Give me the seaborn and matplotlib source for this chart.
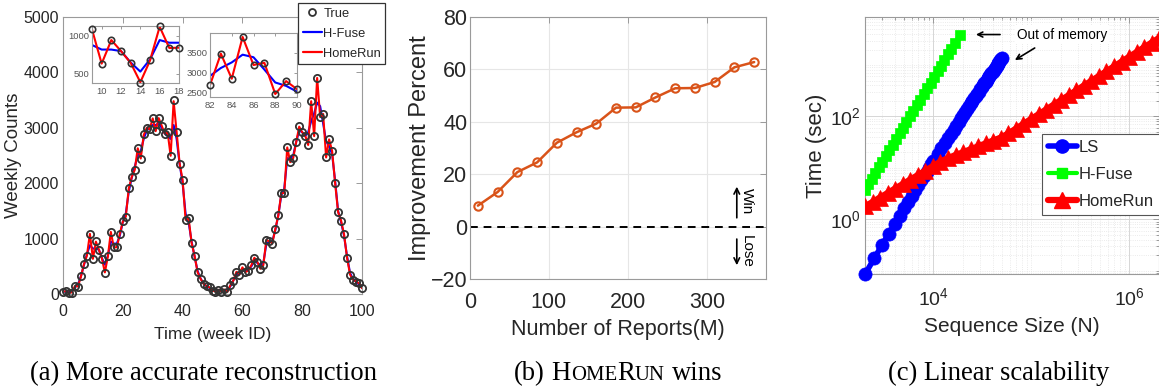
import numpy as np
import pandas as pd
import matplotlib
matplotlib.use("Agg")
import matplotlib.pyplot as plt
import seaborn as sns
from matplotlib.lines import Line2D
from matplotlib.ticker import LogLocator, NullFormatter, FixedLocator, LogFormatterMathtext

# ---------------- data ----------------
weeks = list(range(101))
true_counts = [40, 50, 15, 25, 150, 130, 320, 540, 690, 1090,
               630, 950, 800, 640, 385, 680, 1125, 840, 840, 1090,
               1310, 1390, 1910, 2120, 2235, 2640, 2435, 2880, 3000, 2970,
               3180, 2935, 3180, 3040, 2890, 2920, 2485, 3495, 2920, 2350,
               2065, 1335, 1375, 920, 690, 390, 270, 180, 145, 120,
               60, 40, 75, 40, 85, 35, 160, 240, 405, 345,
               485, 390, 420, 520, 650, 580, 450, 520, 980, 950,
               910, 1175, 1420, 1820, 1820, 2655, 2375, 2450, 2750, 3025,
               2920, 2860, 2690, 3480, 2850, 3905, 3195, 3250, 2465, 2790,
               2585, 2000, 1480, 1325, 1075, 650, 345, 255, 225, 200,
               100]
hfuse_counts = [40, 45, 40, 60, 120, 170, 320, 520, 720, 880,
                820, 820, 800, 650, 530, 690, 945, 910, 910, 1050,
                1300, 1450, 1850, 2100, 2300, 2500, 2580, 2800, 2950, 3000,
                3050, 3050, 3080, 3000, 2900, 2850, 2800, 3050, 2800, 2350,
                2000, 1450, 1300, 950, 680, 420, 280, 190, 140, 110,
                80, 60, 60, 60, 60, 70, 140, 250, 350, 380,
                420, 430, 440, 500, 600, 560, 520, 560, 900, 950,
                950, 1150, 1420, 1780, 1900, 2450, 2450, 2500, 2750, 2950,
                2920, 2850, 2920, 3120, 3260, 3455, 3390, 3080, 2755, 2670,
                2525, 2050, 1500, 1300, 1050, 680, 380, 270, 220, 170,
                110]
homerun_counts = [45, 48, 20, 30, 145, 135, 315, 535, 695, 1085,
                  635, 945, 800, 645, 390, 675, 1120, 840, 845, 1085,
                  1305, 1395, 1905, 2115, 2240, 2630, 2445, 2870, 3000, 2975,
                  3170, 2940, 3175, 3040, 2895, 2915, 2495, 3480, 2925, 2355,
                  2060, 1340, 1370, 925, 690, 395, 275, 185, 145, 120,
                  65, 45, 75, 45, 80, 40, 160, 245, 400, 350,
                  480, 395, 425, 520, 655, 580, 455, 520, 975, 950,
                  915, 1170, 1415, 1815, 1825, 2645, 2380, 2455, 2745, 3020,
                  2920, 2860, 2690, 3480, 2850, 3900, 3195, 3250, 2465, 2790,
                  2585, 2005, 1480, 1325, 1075, 655, 350, 260, 225, 195,
                  105]

reports_m = [10, 35, 60, 85, 110, 135, 160, 185, 210, 235, 260, 285, 310, 335, 360]
improvement_pct = [8.0, 13.2, 20.8, 24.5, 32.0, 36.0, 39.3, 45.4, 45.5, 49.3, 52.8, 52.9, 55.2, 60.8, 62.8]

ls_size = [2000, 2500, 3000, 3500, 4000, 4500, 5000, 5500, 6000, 6500, 7000, 7500, 8000, 8500,
           9000, 9500, 10000, 11000, 12000, 13000, 14000, 15000, 16000, 17000, 18000, 19000,
           20000, 21000, 22000, 23000, 24000, 25000, 26000, 27000, 28000, 29000, 30000, 31000,
           32000, 33000, 34000, 35000, 36000, 37000, 38000, 39000, 40000, 41000, 42000, 43000,
           44000, 45000, 46000, 47000, 48000, 49000, 50000]
ls_time = [0.085, 0.177, 0.321, 0.528, 0.809, 1.18, 1.64, 2.21, 2.89, 3.71, 4.66, 5.76, 7.02, 8.44,
           10.0, 11.8, 13.8, 18.4, 23.8, 30.2, 37.6, 46.1, 55.6, 66.3, 78.3, 91.6,
           106, 122, 140, 159, 179, 201, 224, 250, 277, 305, 336, 368,
           402, 438, 476, 516, 558, 602, 648, 696, 746, 799, 853, 909,
           968, 1029, 1093, 1159, 1227, 1298, 1370]
hf_size = [2000, 2170, 2350, 2550, 2770, 3000, 3260, 3530, 3830, 4150, 4500, 4880, 5290, 5740,
           6230, 6750, 7320, 7940, 8610, 9340, 10130, 10990, 11920, 12920, 14020, 15200, 16490, 18500]
hf_time = [3.72, 4.79, 6.17, 7.95, 10.2, 13.2, 17.0, 21.9, 28.2, 36.3, 46.7, 60.2, 77.5, 99.8,
           129, 166, 213, 274, 353, 455, 586, 755, 972, 1252, 1613, 2077, 2675, 3850]
hr_size = [2000, 2390, 2850, 3400, 4060, 4850, 5790, 6910, 8250, 9850, 11760, 14040, 16770, 20020,
           23900, 28540, 34080, 40690, 48580, 58010, 69270, 82710, 98760, 117900, 140800, 168100,
           200700, 239700, 286200, 341700, 408000, 487200, 581700, 694600, 829400, 990300,
           1182000, 1412000, 1686000, 2013000]
hr_time = [1.78, 2.17, 2.65, 3.24, 3.96, 4.84, 5.90, 7.21, 8.83, 10.8, 13.2, 15.5, 17.7, 20.1,
           23.0, 26.2, 29.9, 34.0, 38.8, 46.7, 57.8, 71.7, 88.9, 110, 136, 169,
           209, 259, 321, 398, 493, 611, 757, 938, 1164, 1442,
           1786, 2213, 2742, 3388]

series_labels_a = ["True", "H-Fuse", "HomeRun"]
series_labels_c = ["LS", "H-Fuse", "HomeRun"]
captions = ["(a) More accurate reconstruction", "(b) HomeRun wins", "(c) Linear scalability"]

# ---------------- style ----------------
sns.set_style("white")
plt.rcParams['font.family'] = ['Liberation Sans', 'DejaVu Sans']
plt.rcParams['mathtext.fontset'] = 'custom'
plt.rcParams['mathtext.rm'] = 'Liberation Sans'
plt.rcParams['mathtext.default'] = 'regular'

W, H = 1159, 390
fig = plt.figure(figsize=(W / 100, H / 100), dpi=100)

SPINE = '#9a9a9a'
TXT = '#262626'


def box(px_left, px_top, px_right, px_bottom):
    return [px_left / W, 1 - px_bottom / H, (px_right - px_left) / W, (px_bottom - px_top) / H]


def style_axes(ax, size, tick_len=4, xpad=3, ypad=3):
    for s in ax.spines.values():
        s.set_visible(True)
        s.set_color(SPINE)
        s.set_linewidth(0.8)
    ax.tick_params(which='both', direction='in', top=True, right=True, color=SPINE,
                   labelcolor=TXT, labelsize=size, length=tick_len, width=0.7)
    ax.tick_params(axis='x', which='both', pad=xpad)
    ax.tick_params(axis='y', which='both', pad=ypad)
    ax.tick_params(which='minor', length=tick_len * 0.5)


df_a = pd.DataFrame({"week": weeks, "true": true_counts, "hfuse": hfuse_counts,
                     "homerun": homerun_counts})

# ---------------- panel (a) ----------------
axA = fig.add_axes(box(63, 17, 362, 294))
sns.lineplot(data=df_a, x="week", y="hfuse", color="#0000FF", lw=1.5, ax=axA, legend=False)
sns.lineplot(data=df_a, x="week", y="homerun", color="#FF0000", lw=1.5, ax=axA, legend=False)
sns.lineplot(data=df_a, x="week", y="true", marker='o', linestyle='none', ms=5.2,
             mfc='none', mec='#333333', mew=1.3, ax=axA, legend=False, clip_on=False, zorder=4)
axA.set_xlim(0, 100)
axA.set_ylim(0, 5000)
axA.set_xticks([0, 20, 40, 60, 80, 100])
axA.set_yticks([0, 1000, 2000, 3000, 4000, 5000])
style_axes(axA, 11.5, xpad=7, ypad=3)
axA.set_xlabel("Time (week ID)", fontsize=12.5, color=TXT, labelpad=6)
axA.set_ylabel("Weekly Counts", fontsize=13.5, color=TXT, labelpad=1)

inset_specs = [
    (box(92, 26, 179, 83), (9, 18), (380, 1130), [10, 12, 14, 16, 18], [500, 1000]),
    (box(210, 33, 297, 97), (82, 90), (2390, 4000), [82, 84, 86, 88, 90], [2500, 3000, 3500]),
]
for pos, (x0, x1), ylim, xt, yt in inset_specs:
    axI = fig.add_axes(pos)
    sub = df_a[(df_a.week >= x0) & (df_a.week <= x1)]
    sns.lineplot(data=sub, x="week", y="hfuse", color="#0000FF", lw=1.5, ax=axI, legend=False)
    sns.lineplot(data=sub, x="week", y="homerun", color="#FF0000", lw=1.5, ax=axI, legend=False)
    sns.lineplot(data=sub, x="week", y="true", marker='o', linestyle='none', ms=4.6,
                 mfc='none', mec='#333333', mew=1.2, ax=axI, legend=False, clip_on=False, zorder=4)
    axI.set_xlim(x0, x1)
    axI.set_ylim(*ylim)
    axI.set_xticks(xt)
    axI.set_yticks(yt)
    style_axes(axI, 6.8, tick_len=2, xpad=3, ypad=2)
    axI.tick_params(labelcolor='#555555')
    axI.set_xlabel("")
    axI.set_ylabel("")

legA = fig.legend(
    [Line2D([], [], marker='o', ls='none', mfc='none', mec='#333333', mew=1.3, ms=5),
     Line2D([], [], color='#0000FF', lw=1.6),
     Line2D([], [], color='#FF0000', lw=1.6)],
    series_labels_a, loc='upper left', bbox_to_anchor=(298 / W, 1 - 3 / H),
    fontsize=9.3, frameon=True, fancybox=False, edgecolor='#333333', framealpha=1,
    handlelength=1.5, handletextpad=0.1, borderpad=0.35, labelspacing=0.62, borderaxespad=0)
legA.get_frame().set_linewidth(0.9)

# ---------------- panel (b) ----------------
axB = fig.add_axes(box(470, 17, 766, 279))
sns.lineplot(x=reports_m, y=improvement_pct, color='#D95319', lw=1.8, marker='o', ms=6,
             mfc='none', mec='#D95319', mew=1.5, ax=axB, legend=False, zorder=3)
axB.axhline(0, color='black', lw=1.4, ls=(0, (4, 3)), zorder=2)
axB.set_xlim(0, 375)
axB.set_ylim(-20, 80)
axB.set_xticks([0, 100, 200, 300])
axB.set_yticks([-20, 0, 20, 40, 60, 80])
axB.grid(True, color='#e6e6e6', lw=0.8)
axB.set_axisbelow(True)
style_axes(axB, 15.5, xpad=9, ypad=2)
axB.set_xlabel("Number of Reports(M)", fontsize=15.5, color=TXT, labelpad=5)
axB.set_ylabel("Improvement Percent", fontsize=17, color=TXT, labelpad=0)
axB.annotate('', xy=(338, 16.3), xytext=(338, 2.3),
             arrowprops=dict(arrowstyle='->', color='black', lw=1.2, mutation_scale=10))
axB.annotate('', xy=(338, -15.8), xytext=(338, -3.7),
             arrowprops=dict(arrowstyle='->', color='black', lw=1.2, mutation_scale=10))
axB.text(351, 9.6, "Win", rotation=270, ha='center', va='center', fontsize=11, color='black')
axB.text(351, -9.6, "Lose", rotation=270, ha='center', va='center', fontsize=11, color='black')

# ---------------- panel (c) ----------------
axC = fig.add_axes(box(865, 17, 1159, 274.3))
axC.set_xscale('log')
axC.set_yscale('log')
sns.lineplot(x=ls_size, y=ls_time, color='#0000FF', lw=4, marker='o', ms=9.5, mfc='#0000FF',
             mec='#0000FF', mew=0.5, ax=axC, legend=False, clip_on=False, zorder=3)
sns.lineplot(x=hf_size, y=hf_time, color='#00FF00', lw=3, marker='s', ms=6.5, mfc='#00FF00',
             mec='#00FF00', mew=0.5, ax=axC, legend=False, zorder=3)
sns.lineplot(x=hr_size, y=hr_time, color='#FF0000', lw=4.5, marker='^', ms=11, mfc='#FF0000',
             mec='#FF0000', mew=0.5, ax=axC, legend=False, zorder=4)
axC.set_xlim(2000, 2.0e6)
axC.set_ylim(0.085, 8600)
axC.xaxis.set_major_locator(FixedLocator([1e4, 1e6]))
axC.yaxis.set_major_locator(FixedLocator([1e0, 1e2]))
axC.xaxis.set_major_formatter(LogFormatterMathtext())
axC.yaxis.set_major_formatter(LogFormatterMathtext())
axC.xaxis.set_minor_locator(LogLocator(base=10, subs=np.arange(1, 10), numticks=50))
axC.yaxis.set_minor_locator(LogLocator(base=10, subs=np.arange(1, 10), numticks=50))
axC.xaxis.set_minor_formatter(NullFormatter())
axC.yaxis.set_minor_formatter(NullFormatter())
axC.grid(True, which='major', color='#d6d6d6', lw=0.7)
axC.grid(True, which='minor', color='#e4e4e4', lw=0.6, ls=':')
axC.set_axisbelow(True)
style_axes(axC, 14, xpad=9, ypad=3)
axC.set_xlabel("Sequence Size (N)", fontsize=15, color=TXT, labelpad=6)
axC.set_ylabel("Time (sec)", fontsize=16, color=TXT, labelpad=2)
axC.text(2.06e5, 3920, "Out of memory", ha='center', va='center', fontsize=9.8, color='black',
         bbox=dict(facecolor='white', edgecolor='none', pad=1.5), zorder=5)
axC.annotate('', xy=(2.54e4, 3920), xytext=(5.1e4, 3920),
             arrowprops=dict(arrowstyle='->', color='black', lw=1.2, mutation_scale=9), zorder=5)
axC.annotate('', xy=(6.4e4, 1170), xytext=(1.14e5, 2290),
             arrowprops=dict(arrowstyle='->', color='black', lw=1.2, mutation_scale=9), zorder=5)

legC = fig.legend(
    [Line2D([], [], color='#0000FF', lw=4, marker='o', ms=9.5),
     Line2D([], [], color='#00FF00', lw=3, marker='s', ms=6.5),
     Line2D([], [], color='#FF0000', lw=4.5, marker='^', ms=11)],
    series_labels_c, loc='upper left', bbox_to_anchor=(1042 / W, 1 - 134 / H),
    fontsize=12, frameon=True, fancybox=False, edgecolor='#555555', framealpha=1,
    handlelength=1.75, handletextpad=0.1, borderpad=0.35, labelspacing=0.72, borderaxespad=0,
    numpoints=1)
legC.get_frame().set_linewidth(0.8)

# ---------------- captions ----------------
renderer = fig.canvas.get_renderer()
CAP_SIZE = 19.2
base_y = 1 - 380 / H


def place_caption(parts, xc):
    items = []
    total = 0.0
    for s, size, gap_before in parts:
        t = fig.text(0, base_y, s, fontsize=size, family=['Liberation Serif', 'DejaVu Serif'],
                     ha='left', va='baseline', color='black')
        w = t.get_window_extent(renderer).width
        gap = gap_before * CAP_SIZE * 100 / 72
        items.append((t, w, gap))
        total += w + gap
    x = xc - total / 2
    for t, w, gap in items:
        x += gap
        t.set_x(x / W)
        x += w


place_caption([(captions[0], CAP_SIZE, 0)], 203)
sc = CAP_SIZE * 0.78
place_caption([("(b)", CAP_SIZE, 0), ("H", CAP_SIZE, 0.25), ("OME", sc, 0), ("R", CAP_SIZE, 0),
               ("UN", sc, 0), ("wins", CAP_SIZE, 0.25)], 618)
place_caption([(captions[2], CAP_SIZE, 0)], 999)

fig.savefig("out.png", dpi=100)
